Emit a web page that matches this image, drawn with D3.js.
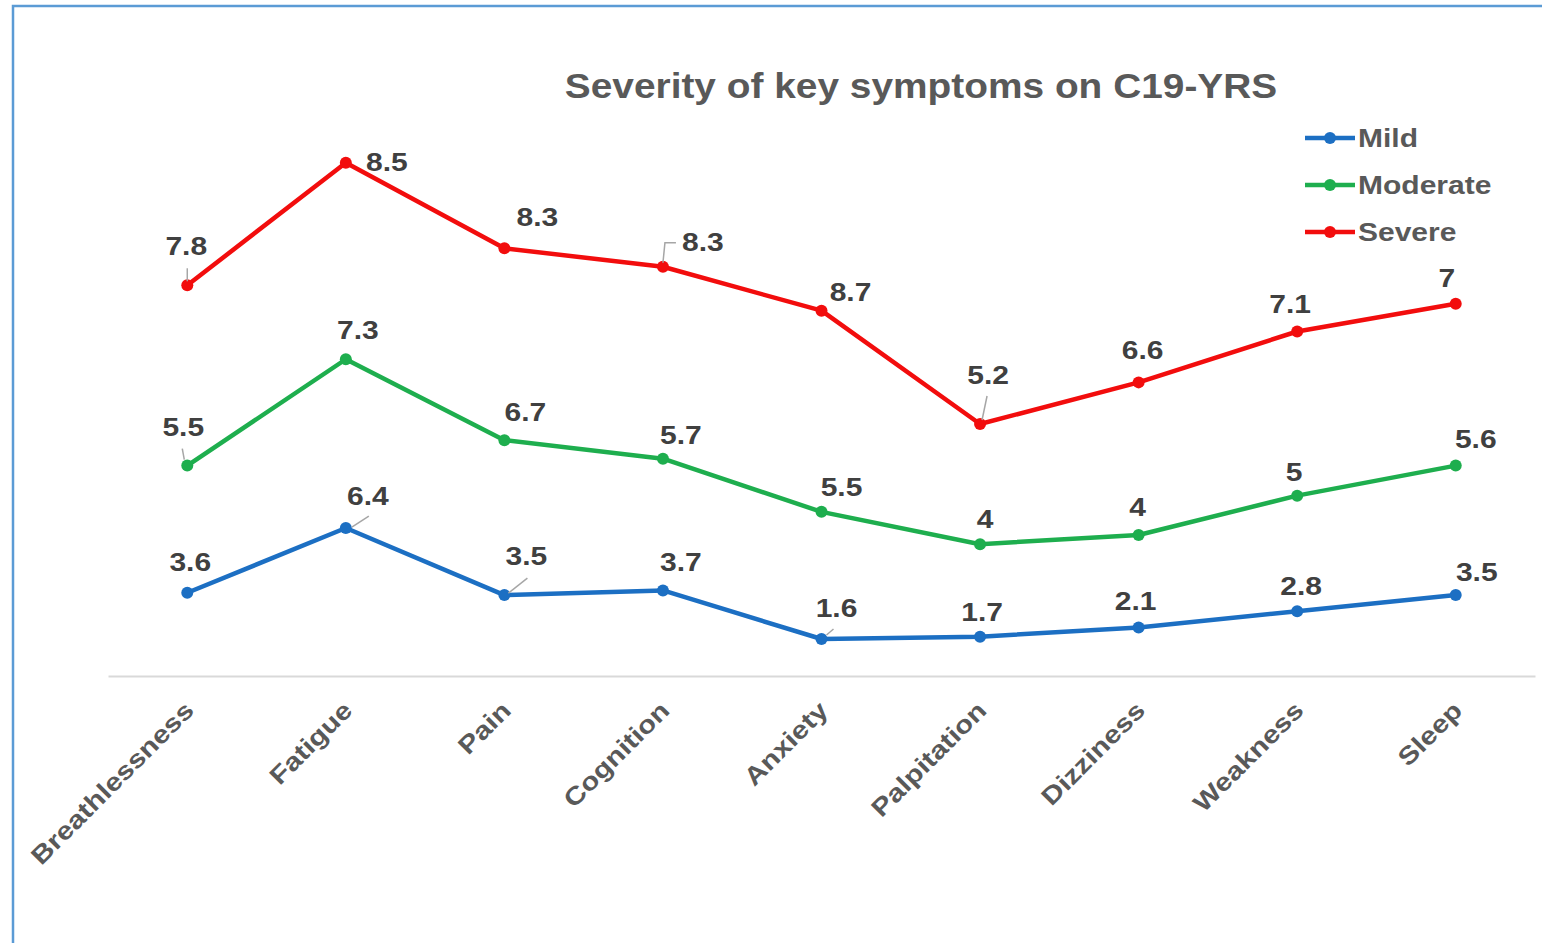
<!DOCTYPE html>
<html>
<head>
<meta charset="utf-8">
<script src="https://cdn.jsdelivr.net/npm/d3@7"></script>
<style>
  html, body { margin: 0; padding: 0; background: #ffffff; }
  svg { display: block; }
</style>
</head>
<body>
<svg id="chart" width="1542" height="943"></svg>
<script>
// Symptom categories on the C19-YRS scale
const categories = ["Breathlessness", "Fatigue", "Pain", "Cognition", "Anxiety",
                    "Palpitation", "Dizziness", "Weakness", "Sleep"];

// Mean severity scores per group (stacked line chart)
const mild     = [3.6, 6.4, 3.5, 3.7, 1.6, 1.7, 2.1, 2.8, 3.5];
const moderate = [5.5, 7.3, 6.7, 5.7, 5.5, 4, 4, 5, 5.6];
const severe   = [7.8, 8.5, 8.3, 8.3, 8.7, 5.2, 6.6, 7.1, 7];

const seriesNames = ["Mild", "Moderate", "Severe"];
const seriesColors = { Mild: "#1c6fc3", Moderate: "#1eae4e", Severe: "#f20d0d" };

// Label placement relative to each point [dx, dy]
const labelNudge = {
  Mild:     [[3,-31],[22,-32],[22,-39],[18,-28],[15,-31],[2,-24],[-3,-26],[4,-25],[21,-23]],
  Moderate: [[-4,-38],[12,-29],[21,-28],[18,-23],[20,-25],[5,-25],[-1,-28],[-3,-23],[20,-26]],
  Severe:   [[-1,-39],[41,0],[33,-31],[40,-25],[29,-18],[8,-49],[4,-32],[-7,-27],[-9,-26]]
};
// Leader lines connecting displaced labels to their points
const leaders = [
  { s: "Severe", i: 0, pts: [[0,-17],[0,-4]] },
  { s: "Severe", i: 3, pts: [[0,-4],[2,-24],[13,-24]] },
  { s: "Severe", i: 5, pts: [[7,-28],[2,-4]] },
  { s: "Moderate", i: 0, pts: [[-5,-17],[-3,-6]] },
  { s: "Mild", i: 1, pts: [[23,-12],[6,-1]] },
  { s: "Mild", i: 2, pts: [[23,-17],[4,-2]] },
  { s: "Mild", i: 4, pts: [[12,-10],[5,-4]] }
];

const svg = d3.select("#chart");
const font = "'Liberation Sans', Arial, Helvetica, sans-serif";

// outer frame
svg.append("rect")
  .attr("x", 13).attr("y", 6).attr("width", 1700).attr("height", 1100)
  .attr("fill", "none").attr("stroke", "#5b9bd5").attr("stroke-width", 2.5);

const rows = categories.map((c, i) => ({ cat: c, Mild: mild[i], Moderate: moderate[i], Severe: severe[i] }));
const stacked = d3.stack().keys(seriesNames)(rows);

const x = d3.scaleBand().domain(categories).range([108, 1535]).padding(0);
const y = d3.scaleLinear().domain([0, 25]).range([676, 98]);
const cx = c => x(c) + x.bandwidth() / 2;

// title
svg.append("text")
  .attr("transform", "translate(921,98) scale(1.11,1)")
  .attr("text-anchor", "middle")
  .attr("font-family", font).attr("font-weight", "bold").attr("font-size", 35)
  .attr("fill", "#595959")
  .text("Severity of key symptoms on C19-YRS");

// category axis
const axisG = svg.append("g").attr("transform", `translate(0,${y(0)})`)
  .call(d3.axisBottom(x).tickSize(0).tickFormat(""));
axisG.select(".domain").attr("stroke", "#d9d9d9").attr("stroke-width", 2);

svg.append("g").selectAll("text")
  .data(categories)
  .join("text")
  .attr("transform", d => `translate(${cx(d) + 8},${y(0) + 36}) rotate(-45) scale(1.18,1)`)
  .attr("text-anchor", "end")
  .attr("font-family", font).attr("font-weight", "bold").attr("font-size", 25)
  .attr("fill", "#595959")
  .text(d => d);

// lines and markers
const line = d3.line().x(d => cx(d.data.cat)).y(d => y(d[1]));

stacked.forEach(layer => {
  const name = layer.key;
  const color = seriesColors[name];
  const g = svg.append("g");
  g.append("path")
    .datum(layer)
    .attr("d", line)
    .attr("fill", "none")
    .attr("stroke", color)
    .attr("stroke-width", 4.5)
    .attr("stroke-linejoin", "round");
  g.selectAll("circle")
    .data(layer)
    .join("circle")
    .attr("cx", d => cx(d.data.cat))
    .attr("cy", d => y(d[1]))
    .attr("r", 6)
    .attr("fill", color);
});

// leader lines
leaders.forEach(l => {
  const layer = stacked.find(s => s.key === l.s);
  const d = layer[l.i];
  const px = cx(d.data.cat), py = y(d[1]);
  svg.append("path")
    .attr("d", d3.line()(l.pts.map(p => [px + p[0], py + p[1]])))
    .attr("fill", "none")
    .attr("stroke", "#a6a6a6")
    .attr("stroke-width", 1.5);
});

// value labels
stacked.forEach(layer => {
  const name = layer.key;
  svg.append("g").selectAll("text")
    .data(layer)
    .join("text")
    .attr("transform", (d, i) =>
      `translate(${cx(d.data.cat) + labelNudge[name][i][0]},${y(d[1]) + labelNudge[name][i][1]}) scale(1.2,1)`)
    .attr("dy", "0.35em")
    .attr("text-anchor", "middle")
    .attr("font-family", font).attr("font-weight", "bold").attr("font-size", 25)
    .attr("fill", "#404040")
    .text(d => d.data[name]);
});

// legend
const legend = svg.append("g");
seriesNames.forEach((name, i) => {
  const ly = 138 + i * 47;
  legend.append("line")
    .attr("x1", 1305).attr("x2", 1355).attr("y1", ly).attr("y2", ly)
    .attr("stroke", seriesColors[name]).attr("stroke-width", 4.5);
  legend.append("circle")
    .attr("cx", 1330).attr("cy", ly).attr("r", 6)
    .attr("fill", seriesColors[name]);
  legend.append("text")
    .attr("transform", `translate(1358,${ly}) scale(1.2,1)`)
    .attr("dy", "0.35em")
    .attr("font-family", font).attr("font-weight", "bold").attr("font-size", 25)
    .attr("fill", "#595959")
    .text(name);
});
</script>
</body>
</html>
